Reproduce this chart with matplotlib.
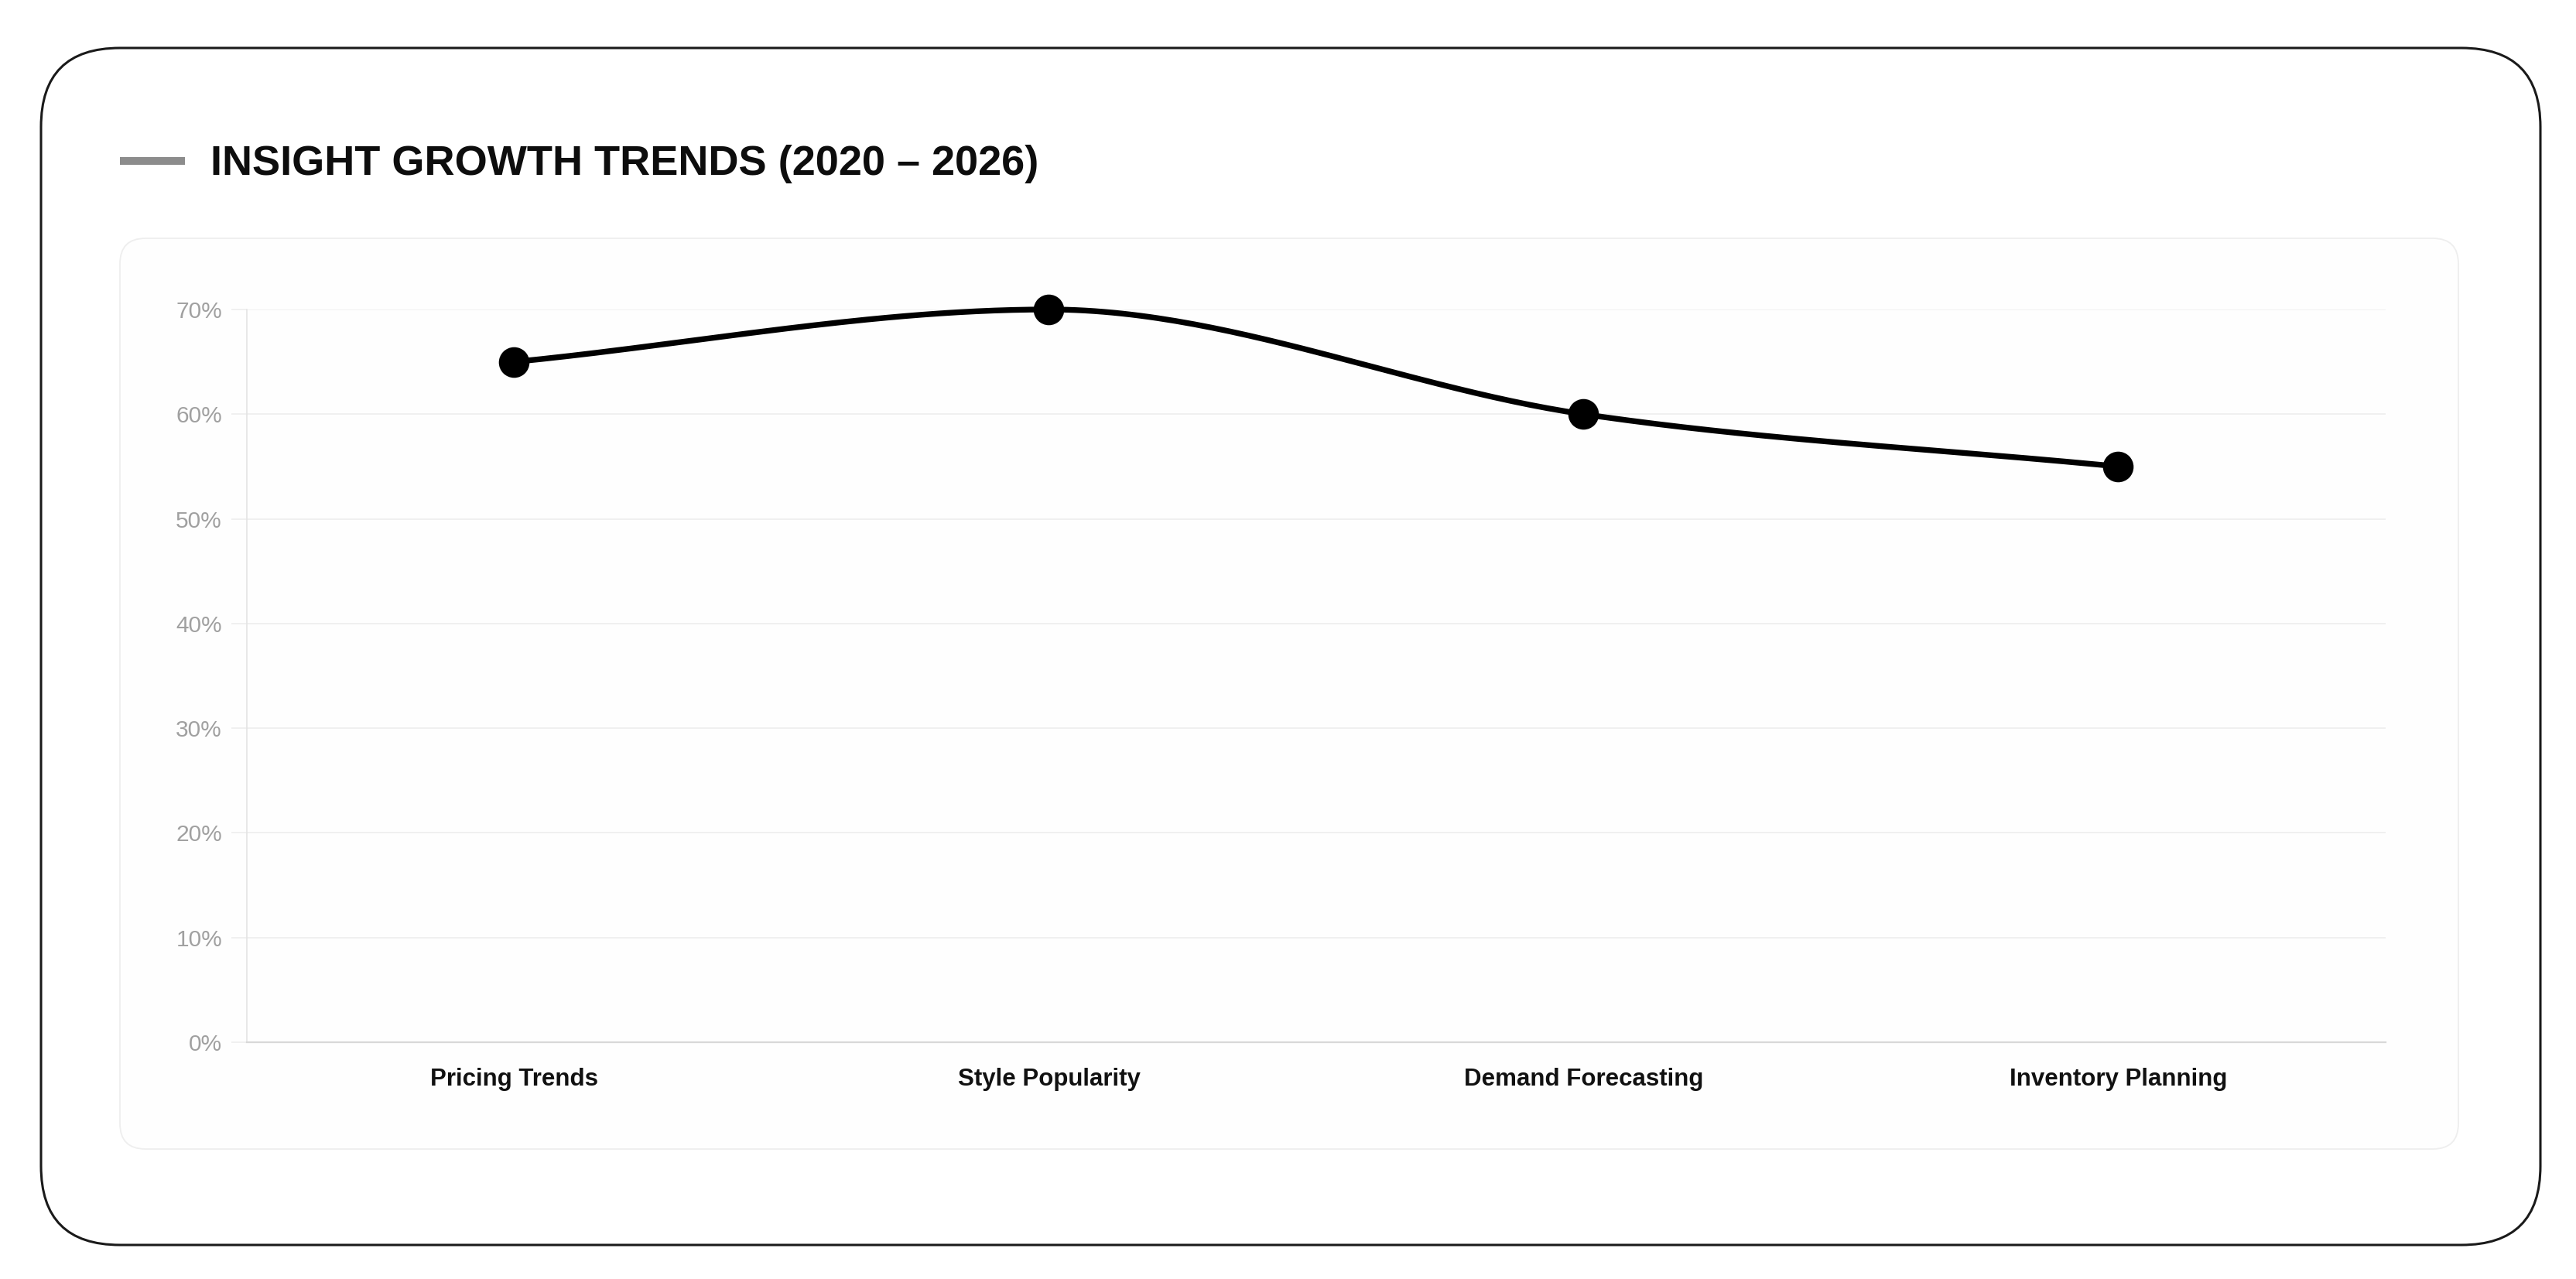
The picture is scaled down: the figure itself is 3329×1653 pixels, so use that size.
import numpy as np
import matplotlib
matplotlib.use("Agg")
import matplotlib.pyplot as plt
from matplotlib.patches import FancyBboxPatch, Rectangle

# ---- data ----
categories = ["Pricing Trends", "Style Popularity", "Demand Forecasting", "Inventory Planning"]
values = [65, 70, 60, 55]
y_ticks = [0, 10, 20, 30, 40, 50, 60, 70]
y_tick_labels = ["0%", "10%", "20%", "30%", "40%", "50%", "60%", "70%"]
title = "INSIGHT GROWTH TRENDS (2020 \u2013 2026)"

W, H, DPI = 3330, 1653, 100
plt.rcParams['font.family'] = ['Liberation Sans', 'DejaVu Sans']

fig = plt.figure(figsize=(W / DPI, H / DPI), dpi=DPI)
fig.patch.set_facecolor("white")

# background / decoration axes in pixel coordinates (y downwards)
bg = fig.add_axes([0, 0, 1, 1])
bg.set_xlim(0, W)
bg.set_ylim(H, 0)
bg.axis("off")
bg.set_zorder(0)

outer = FancyBboxPatch((53, 62), 3283 - 53, 1609 - 62,
                       boxstyle="round,pad=0,rounding_size=102",
                       facecolor="white", edgecolor="#1a1a1a", linewidth=2.2)
bg.add_patch(outer)
panel = FancyBboxPatch((155, 308), 3177 - 155, 1485 - 308,
                       boxstyle="round,pad=0,rounding_size=33",
                       facecolor="#fefefe", edgecolor="#eeeeee", linewidth=1.3)
bg.add_patch(panel)
bg.add_patch(Rectangle((155, 203), 239 - 155, 10, facecolor="#8c8c8c", edgecolor="none"))
bg.text(272, 226, title, fontsize=39, fontweight="bold", color="#0d0d0d",
        va="baseline", ha="left")


def monotone_curve(xs, ys, n=60):
    xs = np.asarray(xs, float)
    ys = np.asarray(ys, float)
    k = len(xs)
    d = np.diff(ys) / np.diff(xs)
    m = np.zeros(k)
    m[0] = d[0]
    m[-1] = d[-1]
    for i in range(1, k - 1):
        if d[i - 1] == 0 or d[i] == 0 or np.sign(d[i - 1]) != np.sign(d[i]):
            m[i] = 0
        else:
            m[i] = (d[i - 1] + d[i]) / 2
    for i in range(k - 1):
        if abs(d[i]) < 1e-12:
            m[i] = m[i + 1] = 0
            continue
        a = m[i] / d[i]
        b = m[i + 1] / d[i]
        s = a * a + b * b
        if s > 9:
            t = 3 / np.sqrt(s)
            m[i] = t * a * d[i]
            m[i + 1] = t * b * d[i]
    px, py = [], []
    t = np.linspace(0, 1, n)
    for i in range(k - 1):
        dx = (xs[i + 1] - xs[i]) / 3
        p0 = np.array([xs[i], ys[i]])
        p1 = np.array([xs[i] + dx, ys[i] + m[i] * dx])
        p2 = np.array([xs[i + 1] - dx, ys[i + 1] - m[i + 1] * dx])
        p3 = np.array([xs[i + 1], ys[i + 1]])
        tt = t[:, None]
        pts = ((1 - tt) ** 3) * p0 + 3 * ((1 - tt) ** 2) * tt * p1 + 3 * (1 - tt) * tt ** 2 * p2 + tt ** 3 * p3
        if i > 0:
            pts = pts[1:]
        px.extend(pts[:, 0])
        py.extend(pts[:, 1])
    return np.array(px), np.array(py)


left, right, top, bottom = 319, 3083, 400, 1347
ax = fig.add_axes([left / W, 1 - bottom / H, (right - left) / W, (bottom - top) / H])
ax.set_zorder(2)
ax.patch.set_alpha(0)

x = np.arange(len(categories))
cx, cy = monotone_curve(x, values)
ax.plot(cx, cy, color="black", linewidth=5.3, solid_capstyle="round", clip_on=False, zorder=3)
ax.plot(x, values, linestyle="none", marker="o", markersize=27.5, color="black", clip_on=False, zorder=4)

ax.set_xlim(-0.5, len(categories) - 0.5)
ax.set_ylim(0, 70)
ax.set_yticks(y_ticks)
ax.set_yticklabels(y_tick_labels)
ax.set_xticks(x)
ax.set_xticklabels(categories, fontweight="bold", fontsize=22.5, color="#111111")
ax.yaxis.grid(True, color="#ececec", linewidth=1.1)
ax.xaxis.grid(False)
ax.set_axisbelow(True)
ax.tick_params(axis="y", length=14.4, width=1.1, color="#ececec", pad=8.6,
               labelsize=21.5, labelcolor="#a0a0a0")
ax.tick_params(axis="x", length=0, pad=23.5)
for s in ["top", "right"]:
    ax.spines[s].set_visible(False)
ax.spines["left"].set_color("#e2e2e2")
ax.spines["left"].set_linewidth(1.1)
ax.spines["bottom"].set_color("#d8d8d8")
ax.spines["bottom"].set_linewidth(1.6)

fig.savefig("out.png", dpi=DPI, facecolor="white")
